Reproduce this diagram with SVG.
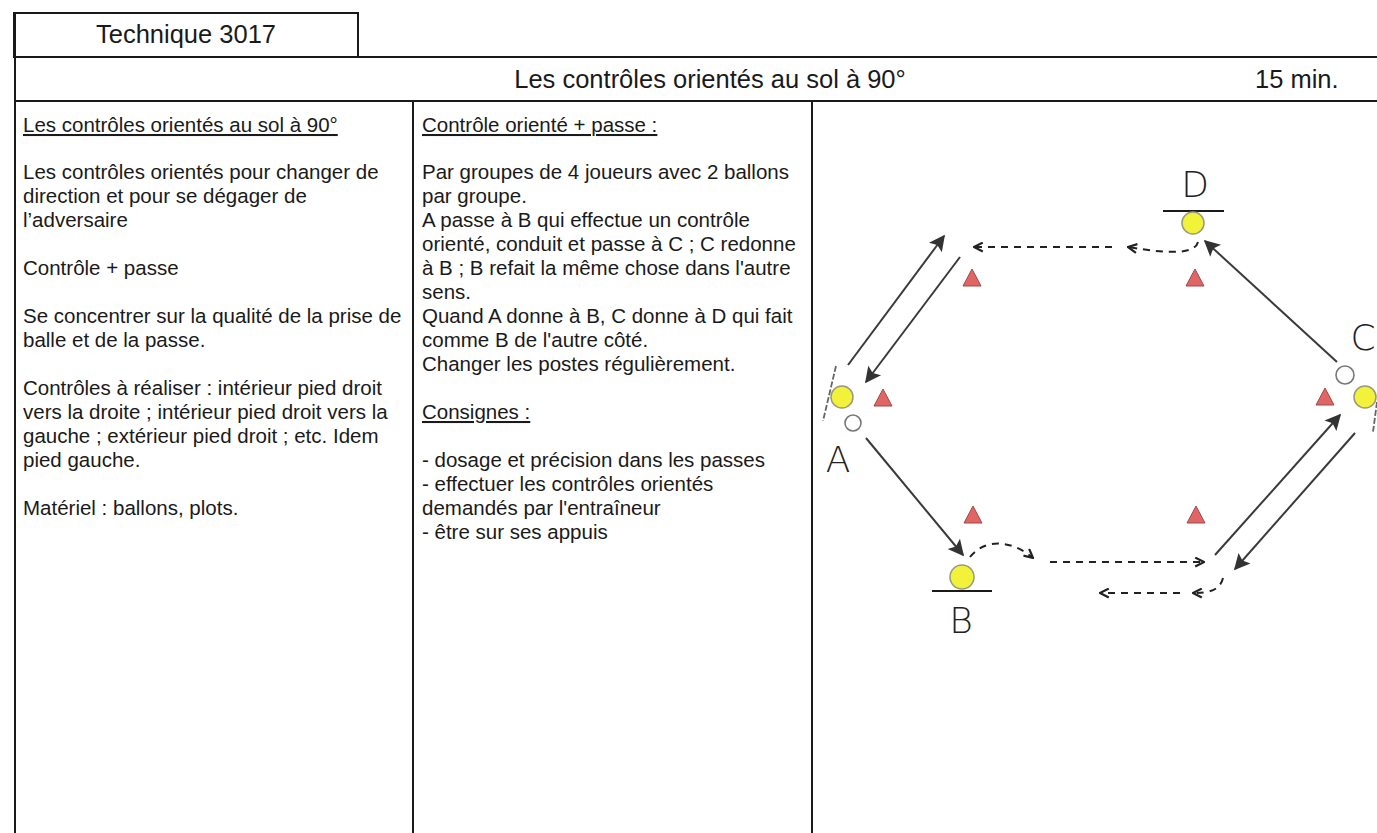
<svg xmlns="http://www.w3.org/2000/svg" width="1377" height="833" viewBox="0 0 1377 833">
<defs>
<style>
.frame{fill:none;stroke:#1a1a1a;stroke-width:2}
.head{font-family:"Liberation Sans",Arial,sans-serif;font-size:25.5px;fill:#1a1a1a}
.body{font-family:"Liberation Sans",Arial,sans-serif;font-size:20.5px;fill:#1a1a1a}
.ul{text-decoration:underline}
.lbl{font-family:"DejaVu Sans","Liberation Sans",sans-serif;font-weight:200;font-size:36px;fill:#222;text-anchor:middle}
.ball{fill:#f2f23a;stroke:#9a9a7a;stroke-width:1.5}
.hollow{fill:#fff;stroke:#777;stroke-width:1.6}
.cone{fill:#e06666;stroke:#a04848;stroke-width:1}
.base{stroke:#1a1a1a;stroke-width:2}
.pass{fill:none;stroke:#3a3a3a;stroke-width:2;marker-end:url(#solid)}
.run{fill:none;stroke:#222;stroke-width:2;stroke-dasharray:7 6;marker-end:url(#open)}
.tick{stroke:#666;stroke-width:1.8;stroke-dasharray:6 2}
</style>
<marker id="solid" viewBox="0 0 10 10" refX="9" refY="5" markerWidth="20" markerHeight="16" markerUnits="userSpaceOnUse" orient="auto">
<path d="M0,0 L10,5 L0,10 L2,5 z" fill="#333"/>
</marker>
<marker id="open" viewBox="0 0 10 10" refX="9" refY="5" markerWidth="11" markerHeight="11" markerUnits="userSpaceOnUse" orient="auto">
<path d="M1,1 L9,5 L1,9" fill="none" stroke="#222" stroke-width="2"/>
</marker>
</defs>
<rect width="1377" height="833" fill="#fff"/>

<g id="frame">
<rect class="frame" x="14" y="13" width="344" height="44"/>
<line class="frame" x1="14" y1="57" x2="1377" y2="57"/>
<line class="frame" x1="14" y1="101" x2="1377" y2="101"/>
<line class="frame" x1="15" y1="13" x2="15" y2="833"/>
<line class="frame" x1="413" y1="101" x2="413" y2="833"/>
<line class="frame" x1="812" y1="101" x2="812" y2="833"/>
</g>

<g id="header">
<text class="head" x="186" y="43" text-anchor="middle">Technique 3017</text>
<text class="head" x="710" y="88" text-anchor="middle">Les contrôles orientés au sol à 90°</text>
<text class="head" x="1255" y="88">15 min.</text>
</g>

<g id="col-left">
<text class="body ul" x="23" y="132">Les contrôles orientés au sol à 90°</text>
<text class="body">
<tspan x="23" y="179">Les contrôles orientés pour changer de</tspan>
<tspan x="23" y="203">direction et pour se dégager de</tspan>
<tspan x="23" y="227">l’adversaire</tspan>
<tspan x="23" y="275">Contrôle + passe</tspan>
<tspan x="23" y="323">Se concentrer sur la qualité de la prise de</tspan>
<tspan x="23" y="347">balle et de la passe.</tspan>
<tspan x="23" y="395">Contrôles à réaliser : intérieur pied droit</tspan>
<tspan x="23" y="419">vers la droite ; intérieur pied droit vers la</tspan>
<tspan x="23" y="443">gauche ; extérieur pied droit ; etc. Idem</tspan>
<tspan x="23" y="467">pied gauche.</tspan>
<tspan x="23" y="515">Matériel : ballons, plots.</tspan>
</text>
</g>

<g id="col-middle">
<text class="body ul" x="422" y="132">Contrôle orienté + passe :</text>
<text class="body">
<tspan x="422" y="179">Par groupes de 4 joueurs avec 2 ballons</tspan>
<tspan x="422" y="203">par groupe.</tspan>
<tspan x="422" y="227">A passe à B qui effectue un contrôle</tspan>
<tspan x="422" y="251">orienté, conduit et passe à C ; C redonne</tspan>
<tspan x="422" y="275">à B ; B refait la même chose dans l'autre</tspan>
<tspan x="422" y="299">sens.</tspan>
<tspan x="422" y="323">Quand A donne à B, C donne à D qui fait</tspan>
<tspan x="422" y="347">comme B de l'autre côté.</tspan>
<tspan x="422" y="371">Changer les postes régulièrement.</tspan>
</text>
<text class="body ul" x="422" y="419">Consignes :</text>
<text class="body">
<tspan x="422" y="467">- dosage et précision dans les passes</tspan>
<tspan x="422" y="491">- effectuer les contrôles orientés</tspan>
<tspan x="422" y="515">demandés par l'entraîneur</tspan>
<tspan x="422" y="539">- être sur ses appuis</tspan>
</text>
</g>

<g id="cones">
<polygon class="cone" points="972,269 963,286 981,286"/>
<polygon class="cone" points="1195,269 1186,286 1204,286"/>
<polygon class="cone" points="883,389 874,406 892,406"/>
<polygon class="cone" points="1325,388 1316,405 1334,405"/>
<polygon class="cone" points="973,506 964,523 982,523"/>
<polygon class="cone" points="1196,506 1187,523 1205,523"/>
</g>

<g id="player-A">
<line class="tick" x1="836" y1="366" x2="823" y2="421"/>
<circle class="ball" cx="842" cy="397" r="11"/>
<circle class="hollow" cx="853" cy="423" r="8"/>
<text class="lbl" x="838" y="472">A</text>
</g>

<g id="player-B">
<circle class="ball" cx="962" cy="577" r="12"/>
<line class="base" x1="932" y1="591" x2="992" y2="591"/>
<text class="lbl" x="961" y="633">B</text>
</g>

<g id="player-C">
<circle class="hollow" cx="1345" cy="375" r="9"/>
<circle class="ball" cx="1365" cy="397" r="11"/>
<line class="tick" x1="1377" y1="402" x2="1373" y2="432"/>
<text class="lbl" x="1363" y="350">C</text>
</g>

<g id="player-D">
<text class="lbl" x="1195" y="197">D</text>
<line class="base" x1="1163" y1="211" x2="1224" y2="211"/>
<circle class="ball" cx="1193" cy="223" r="11"/>
</g>

<g id="connectors">
<line class="pass" x1="848" y1="365" x2="944" y2="236"/>
<line class="pass" x1="960" y1="257" x2="866" y2="382"/>
<line class="pass" x1="866" y1="438" x2="963" y2="555"/>
<line class="pass" x1="1337" y1="362" x2="1205" y2="241"/>
<line class="pass" x1="1215" y1="555" x2="1340" y2="415"/>
<line class="pass" x1="1355" y1="433" x2="1235" y2="569"/>
<path class="run" d="M1198,242 C1195,253 1175,255 1128,247"/>
<path class="run" d="M1112,247 L974,247"/>
<path class="run" d="M970,557 C985,538 1012,540 1033,558"/>
<path class="run" d="M1050,562 L1204,562"/>
<path class="run" d="M1223,578 C1220,590 1210,593 1193,593"/>
<path class="run" d="M1180,593 L1100,593"/>
</g>
</svg>
